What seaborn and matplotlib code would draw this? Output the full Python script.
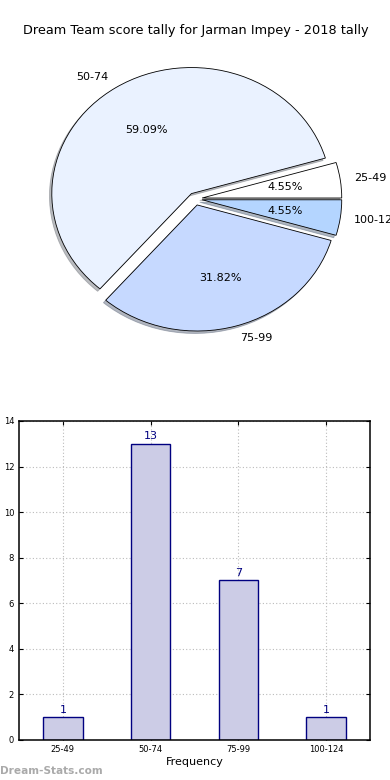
import matplotlib
matplotlib.use("Agg")
import matplotlib.pyplot as plt
import seaborn as sns
import pandas as pd

categories = ["25-49", "50-74", "75-99", "100-124"]
counts = [1, 13, 7, 1]
pie_colors = ["#ffffff", "#eaf2ff", "#c6d9ff", "#b4d5ff"]
explode = [0.05, 0.05, 0.05, 0.05]
title = "Dream Team score tally for Jarman Impey - 2018 tally"

fig = plt.figure(figsize=(3.9, 7.8), dpi=100)

# Pie
axp = fig.add_axes([0.053, 0.543, 0.895, 0.404])
wedges, texts, autotexts = axp.pie(
    counts, labels=categories, colors=pie_colors, explode=explode,
    autopct="%1.2f%%", shadow=dict(ox=-0.012, oy=-0.014, shade=0.5),
    startangle=0,
    wedgeprops=dict(edgecolor="black", linewidth=0.6),
    textprops=dict(fontsize=8),
)
axp.set_aspect("auto")
axp.set_xlim(-1.25, 1.25)
axp.set_ylim(-1.25, 1.25)
fig.text(0.502, 0.961, title, ha="center", va="center", fontsize=9.3)

# Bar chart
axb = fig.add_axes([0.0487, 0.0513, 0.9, 0.409])
df = pd.DataFrame({"cat": categories, "count": counts})
sns.barplot(data=df, x="cat", y="count", ax=axb, color="#ccccE6",
            edgecolor="#000080", linewidth=1.0, width=0.45, saturation=1)
for i, v in enumerate(counts):
    axb.text(i, v + 0.1, str(v), ha="center", va="bottom", fontsize=8, color="#000080")
axb.set_xlim(-0.5, 3.5)
axb.set_ylim(0, 14)
axb.set_yticks(range(0, 15, 2))
axb.grid(True, linestyle=(0, (1, 2)), color="#bbbbbb", linewidth=0.8)
axb.set_axisbelow(True)
axb.tick_params(axis="both", labelsize=6, direction="in", top=True, right=True, length=3)
axb.set_xlabel("Frequency", fontsize=8, labelpad=2)
axb.set_ylabel("Score Intervals", fontsize=7, labelpad=4)
for s in axb.spines.values():
    s.set_linewidth(1.1)
    s.set_color("black")

fig.text(0.0, 0.012, "Dream-Stats.com", ha="left", va="center", fontsize=7.6,
         color="#aaaaaa", fontweight="bold")

fig.savefig("out.png", dpi=100)
